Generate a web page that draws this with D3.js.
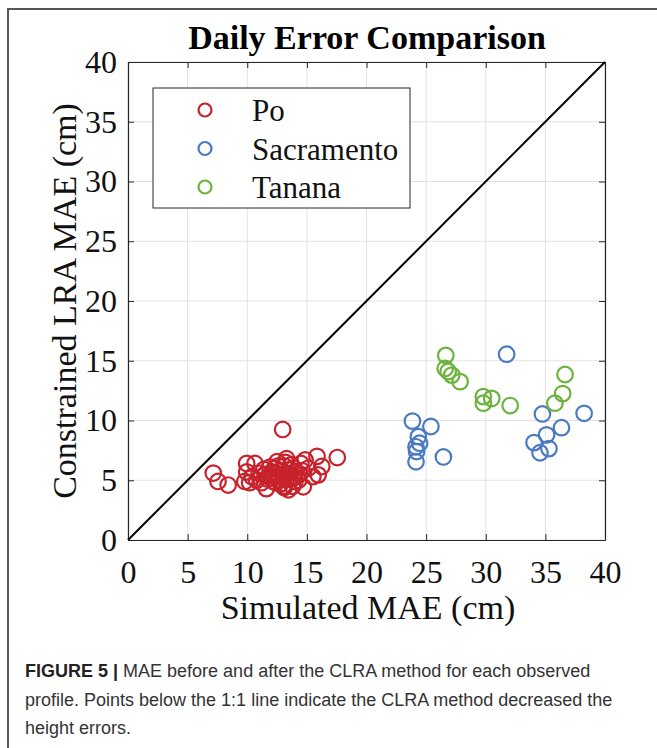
<!DOCTYPE html>
<html>
<head>
<meta charset="utf-8">
<script src="https://cdn.jsdelivr.net/npm/d3@7"></script>
<style>
  body { margin: 0; background: #fff; }
  svg { display: block; }
</style>
</head>
<body>
<svg id="chart" width="657" height="748"></svg>
<script>
// values (Simulated MAE, Constrained LRA MAE), cm
var poX = [7.15, 7.55, 8.4, 12.97, 17.55, 15.85, 16.25, 15.95, 14.85, 14.5, 9.95, 10.65, 9.8, 9.95, 11.6, 13.45, 14.7, 13.3, 12.5, 14.3,
           10.4, 11.0, 11.4, 11.8, 12.1, 12.3, 12.6, 12.9, 13.1, 13.4, 13.6, 13.9, 14.1, 11.2, 11.7, 12.2, 12.8, 13.3, 13.8, 14.4,
           10.2, 11.9, 12.6, 13.2, 13.7, 15.1, 15.5, 10.8, 13.0, 14.0,
           11.5, 12.0, 12.4, 12.7, 13.0, 13.5, 13.9, 14.6, 12.4, 13.1];
var poY = [5.6, 4.9, 4.6, 9.25, 6.9, 7.0, 6.15, 5.45, 6.7, 6.4, 6.4, 6.4, 4.9, 5.7, 4.3, 4.2, 4.45, 6.8, 6.55, 5.0,
           5.3, 5.6, 5.9, 5.4, 5.7, 6.0, 5.3, 5.8, 6.2, 5.5, 5.9, 5.2, 5.7, 4.8, 5.1, 4.9, 4.7, 5.1, 4.5, 5.5,
           4.8, 6.1, 6.2, 6.5, 6.3, 6.0, 5.3, 5.0, 4.5, 4.9,
           5.5, 5.2, 5.6, 5.0, 5.4, 5.1, 6.0, 5.8, 4.8, 4.4];
var sacX = [23.85, 25.4, 24.35, 24.45, 24.15, 24.2, 24.15, 26.45, 31.75, 34.75, 38.25, 36.35, 35.1, 34.05, 34.55, 35.3];
var sacY = [9.95, 9.5, 8.65, 8.1, 7.8, 7.4, 6.55, 6.95, 15.55, 10.55, 10.6, 9.4, 8.8, 8.15, 7.3, 7.65];
var tanX = [26.65, 26.6, 26.85, 27.15, 27.85, 29.8, 30.5, 29.8, 32.05, 36.65, 36.45, 35.8];
var tanY = [15.45, 14.35, 14.1, 13.8, 13.25, 12.0, 11.85, 11.45, 11.25, 13.85, 12.25, 11.45];

var seriesNames = ['Po', 'Sacramento', 'Tanana'];
var seriesColors = ['#c8232c', '#4a7bc0', '#6db33f'];
var ticks = [0, 5, 10, 15, 20, 25, 30, 35, 40];

function drawChart() {
    var series = [
        { name: seriesNames[0], color: seriesColors[0], x: poX, y: poY },
        { name: seriesNames[1], color: seriesColors[1], x: sacX, y: sacY },
        { name: seriesNames[2], color: seriesColors[2], x: tanX, y: tanY }
    ];

    var svg = d3.select('#chart');
    var serif = '"Liberation Serif", "Times New Roman", serif';
    var axisColor = '#262626';

    // outer figure frame (runs off the right and bottom edges)
    svg.append('rect')
        .attr('x', 8).attr('y', 9)
        .attr('width', 720).attr('height', 800)
        .attr('fill', 'none')
        .attr('stroke', '#555').attr('stroke-width', 2);

    var pLeft = 128, pRight = 605, pTop = 62, pBottom = 540;
    var x = d3.scaleLinear().domain([0, 40]).range([pLeft, pRight]);
    var y = d3.scaleLinear().domain([0, 40]).range([pBottom, pTop]);

    // grid
    var grid = svg.append('g');
    grid.selectAll('line.gx').data(ticks).enter().append('line')
        .attr('x1', (d) => x(d)).attr('x2', (d) => x(d))
        .attr('y1', pTop).attr('y2', pBottom)
        .attr('stroke', '#e2e2e2').attr('stroke-width', 1);
    grid.selectAll('line.gy').data(ticks).enter().append('line')
        .attr('y1', (d) => y(d)).attr('y2', (d) => y(d))
        .attr('x1', pLeft).attr('x2', pRight)
        .attr('stroke', '#e2e2e2').attr('stroke-width', 1);

    // axes, ticks inward on all four sides
    function styleAxis(g) {
        g.select('.domain').attr('stroke', axisColor).attr('stroke-width', 1.2);
        g.selectAll('.tick line').attr('stroke', axisColor);
        g.selectAll('.tick text')
            .attr('font-family', serif).attr('font-size', 32).attr('fill', '#111');
    }
    svg.append('g').attr('transform', 'translate(0,' + pBottom + ')')
        .call(d3.axisBottom(x).tickValues(ticks).tickSizeInner(-6).tickSizeOuter(0).tickPadding(20))
        .call(styleAxis);
    svg.append('g').attr('transform', 'translate(' + pLeft + ',0)')
        .call(d3.axisLeft(y).tickValues(ticks).tickSizeInner(-6).tickSizeOuter(0).tickPadding(11))
        .call(styleAxis);
    svg.append('g').attr('transform', 'translate(0,' + pTop + ')')
        .call(d3.axisTop(x).tickValues(ticks).tickSizeInner(-6).tickSizeOuter(0).tickFormat(''))
        .call(styleAxis);
    svg.append('g').attr('transform', 'translate(' + pRight + ',0)')
        .call(d3.axisRight(y).tickValues(ticks).tickSizeInner(-6).tickSizeOuter(0).tickFormat(''))
        .call(styleAxis);

    // 1:1 line
    svg.append('line')
        .attr('x1', x(0)).attr('y1', y(0))
        .attr('x2', x(40)).attr('y2', y(40))
        .attr('stroke', '#000').attr('stroke-width', 2);

    // points
    series.forEach(function (s) {
        svg.append('g').selectAll('circle')
            .data(s.x.map((v, i) => [v, s.y[i]]))
            .enter().append('circle')
            .attr('cx', (d) => x(d[0])).attr('cy', (d) => y(d[1]))
            .attr('r', 7.8)
            .attr('fill', 'none')
            .attr('stroke', s.color).attr('stroke-width', 2.2);
    });

    // legend
    var legend = svg.append('g');
    legend.append('rect')
        .attr('x', 153).attr('y', 88).attr('width', 257).attr('height', 120)
        .attr('fill', '#fff').attr('stroke', axisColor).attr('stroke-width', 1);
    var rowY = d3.scalePoint().domain(seriesNames).range([110, 187]);
    series.forEach(function (s) {
        legend.append('circle')
            .attr('cx', 205).attr('cy', rowY(s.name)).attr('r', 6.5)
            .attr('fill', 'none').attr('stroke', s.color).attr('stroke-width', 2.2);
        legend.append('text')
            .attr('x', 252).attr('y', rowY(s.name) + 11)
            .attr('font-family', serif).attr('font-size', 31).attr('fill', '#111')
            .text(s.name);
    });

    // title and axis labels
    svg.append('text')
        .attr('x', 367).attr('y', 49).attr('text-anchor', 'middle')
        .attr('font-family', serif).attr('font-size', 34).attr('font-weight', 'bold')
        .text('Daily Error Comparison');
    svg.append('text')
        .attr('x', 368).attr('y', 619).attr('text-anchor', 'middle')
        .attr('font-family', serif).attr('font-size', 34).attr('fill', '#111')
        .text('Simulated MAE (cm)');
    svg.append('text')
        .attr('transform', 'translate(76,' + ((pTop + pBottom) / 2) + ') rotate(-90)')
        .attr('text-anchor', 'middle')
        .attr('font-family', serif).attr('font-size', 34).attr('fill', '#111')
        .text('Constrained LRA MAE (cm)');

    // caption
    var captionLines = [
        ['FIGURE 5 | ', 'MAE before and after the CLRA method for each observed'],
        ['', 'profile. Points below the 1:1 line indicate the CLRA method decreased the'],
        ['', 'height errors.']
    ];
    var cap = svg.append('g')
        .attr('font-family', '"Liberation Sans", Arial, sans-serif')
        .attr('font-size', 18).attr('fill', '#333');
    captionLines.forEach(function (line, i) {
        var t = cap.append('text').attr('x', 25).attr('y', 677 + i * 28.5);
        if (line[0]) t.append('tspan').attr('font-weight', 'bold').attr('fill', '#222').text(line[0]);
        t.append('tspan').text(line[1]);
    });
}

drawChart();
</script>
</body>
</html>
